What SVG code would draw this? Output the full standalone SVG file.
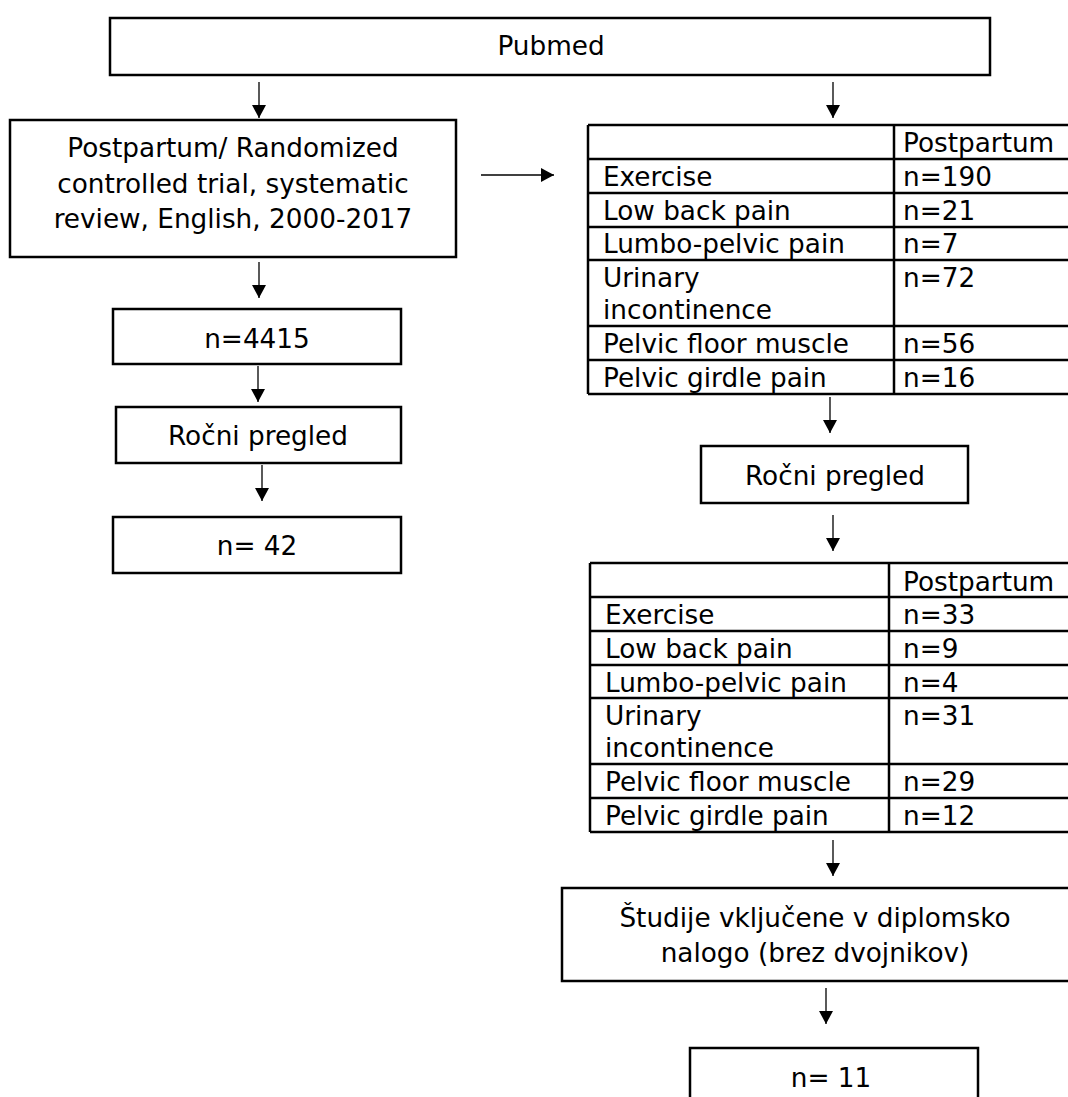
<svg xmlns="http://www.w3.org/2000/svg" width="1068" height="1097" viewBox="0 0 1068 1097">
<style>
text{font-family:"DejaVu Sans",Verdana,sans-serif;font-size:26.3px;fill:#000}
.c{text-anchor:middle}
.box{fill:#fff;stroke:#000;stroke-width:2.5}
.tl{stroke:#000;stroke-width:2.5;fill:none}
.ar{stroke:#000;stroke-width:1.3;fill:none;marker-end:url(#ah)}
</style>
<defs>
<marker id="ah" markerUnits="userSpaceOnUse" markerWidth="14" markerHeight="14" refX="13" refY="7" orient="auto">
<path d="M0,0 L13,7 L0,14 Z" fill="#000"/>
</marker>
</defs>
<rect width="1068" height="1097" fill="#fff"/>
<g id="connectors">
<line class="ar" x1="259" y1="82" x2="259" y2="118"/>
<line class="ar" x1="833" y1="82" x2="833" y2="118"/>
<line class="ar" x1="481" y1="175" x2="554" y2="175"/>
<line class="ar" x1="259" y1="262" x2="259" y2="298"/>
<line class="ar" x1="258" y1="366" x2="258" y2="402"/>
<line class="ar" x1="262" y1="465" x2="262" y2="501"/>
<line class="ar" x1="830" y1="397" x2="830" y2="433"/>
<line class="ar" x1="833" y1="515" x2="833" y2="551"/>
<line class="ar" x1="833" y1="840" x2="833" y2="876"/>
<line class="ar" x1="826" y1="988" x2="826" y2="1024"/>
</g>
<g id="pubmed">
<rect class="box" x="110" y="18" width="880" height="57"/>
<text class="c" x="551" y="55">Pubmed</text>
</g>
<g id="search">
<rect class="box" x="10" y="120" width="446" height="137"/>
<text class="c" x="233" y="157">Postpartum/ Randomized</text>
<text class="c" x="233" y="193">controlled trial, systematic</text>
<text class="c" x="233" y="228">review, English, 2000-2017</text>
</g>
<g id="n4415">
<rect class="box" x="113" y="309" width="288" height="55"/>
<text class="c" x="257" y="348">n=4415</text>
</g>
<g id="rocni-left">
<rect class="box" x="116" y="407" width="285" height="56"/>
<text class="c" x="258" y="445">Ročni pregled</text>
</g>
<g id="n42">
<rect class="box" x="113" y="517" width="288" height="56"/>
<text class="c" x="257" y="555">n= 42</text>
</g>
<g id="table1">
<path class="tl" d="M588,125 H1070 M588,159 H1070 M588,193 H1070 M588,227 H1070 M588,260 H1070 M588,326 H1070 M588,360 H1070 M588,394 H1070 M588,125 V394 M894,125 V394"/>
<text x="903" y="152">Postpartum</text>
<text x="603" y="186">Exercise</text><text x="903" y="186">n=190</text>
<text x="603" y="220">Low back pain</text><text x="903" y="220">n=21</text>
<text x="603" y="253">Lumbo-pelvic pain</text><text x="903" y="253">n=7</text>
<text x="603" y="287">Urinary</text><text x="903" y="287">n=72</text>
<text x="603" y="319">incontinence</text>
<text x="603" y="353">Pelvic floor muscle</text><text x="903" y="353">n=56</text>
<text x="603" y="387">Pelvic girdle pain</text><text x="903" y="387">n=16</text>
</g>
<g id="rocni-right">
<rect class="box" x="701" y="446" width="267" height="57"/>
<text class="c" x="835" y="485">Ročni pregled</text>
</g>
<g id="table2">
<path class="tl" d="M590,563 H1070 M590,597 H1070 M590,631 H1070 M590,665 H1070 M590,698 H1070 M590,764 H1070 M590,798 H1070 M590,832 H1070 M590,563 V832 M889,563 V832"/>
<text x="903" y="591">Postpartum</text>
<text x="605" y="624">Exercise</text><text x="903" y="624">n=33</text>
<text x="605" y="658">Low back pain</text><text x="903" y="658">n=9</text>
<text x="605" y="692">Lumbo-pelvic pain</text><text x="903" y="692">n=4</text>
<text x="605" y="725">Urinary</text><text x="903" y="725">n=31</text>
<text x="605" y="757">incontinence</text>
<text x="605" y="791">Pelvic floor muscle</text><text x="903" y="791">n=29</text>
<text x="605" y="825">Pelvic girdle pain</text><text x="903" y="825">n=12</text>
</g>
<g id="studije">
<rect class="box" x="562" y="888" width="520" height="93"/>
<text class="c" x="815" y="927">Študije vključene v diplomsko</text>
<text class="c" x="815" y="962">nalogo (brez dvojnikov)</text>
</g>
<g id="n11">
<rect class="box" x="690" y="1048" width="288" height="60"/>
<text class="c" x="831" y="1087">n= 11</text>
</g>
</svg>
